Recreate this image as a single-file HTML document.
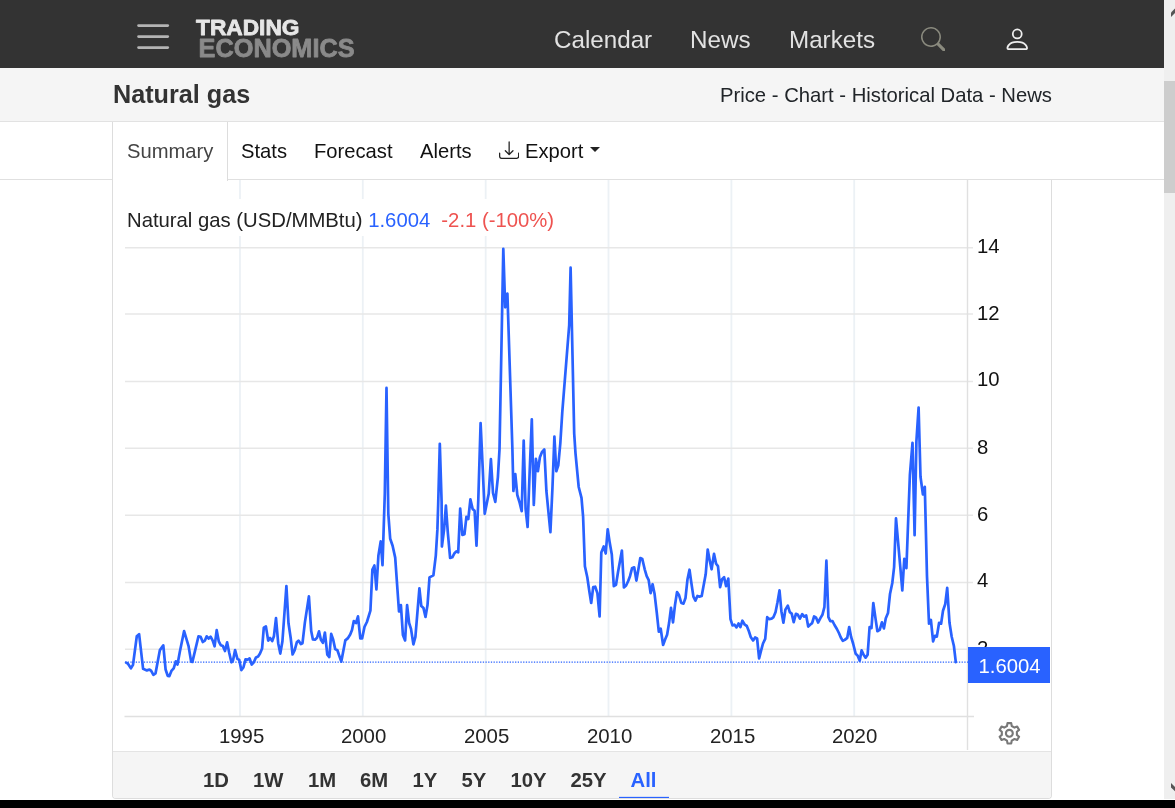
<!DOCTYPE html>
<html><head><meta charset="utf-8"><title>Natural gas</title>
<style>
*{box-sizing:border-box}
html,body{margin:0;padding:0;width:1175px;height:808px;overflow:hidden;background:#fff;font-family:"Liberation Sans",sans-serif}
#page{position:relative;width:1175px;height:808px;overflow:hidden;background:#fff;will-change:transform}
.abs{position:absolute}
#nav{left:0;top:0;width:1164px;height:68px;background:#333}
#nav .lnk{position:absolute;top:26px;color:#e2e2e2;font-size:24.2px;line-height:28px;white-space:nowrap}
#sub{left:0;top:68px;width:1164px;height:54px;background:#f5f5f5;border-bottom:1px solid #e2e2e2}
#title{left:113px;top:80px;font-size:25.2px;font-weight:bold;color:#333;line-height:28px;white-space:nowrap}
#crumbs{left:720px;top:83px;font-size:20.25px;color:#212529;line-height:24px;white-space:nowrap}
#tabline{left:0;top:179px;width:1164px;height:1px;background:#e0e0e0}
#tabact{left:112px;top:122px;width:116px;height:59px;background:#fff;border-left:1px solid #ddd;border-right:1px solid #ddd}
.tab{position:absolute;top:139px;font-size:20.2px;line-height:24px;color:#111;white-space:nowrap}
#box{left:112px;top:180px;width:940px;height:619px;border-left:1px solid #ddd;border-right:1px solid #ddd;border-bottom:1px solid #ddd;border-radius:0 0 4px 4px}
#rng{left:113px;top:751px;width:938px;height:47px;background:#f5f5f5;border-top:1px solid #e4e4e4;border-radius:0 0 3px 3px}
.rb{position:absolute;top:768px;font-size:20.3px;font-weight:bold;line-height:24px;color:#333;white-space:nowrap}
#black{left:0;top:800px;width:1175px;height:8px;background:#000}
#sb{left:1164px;top:0;width:11px;height:799px;background:#efefef}
#thumb{left:1164px;top:81px;width:11px;height:112px;background:#cdcdcd}
</style></head><body><div id="page">
<div id="nav" class="abs">
<div class="lnk" style="left:554px">Calendar</div>
<div class="lnk" style="left:690px">News</div>
<div class="lnk" style="left:789px">Markets</div>
</div>

<svg class="abs" style="left:130px;top:15px" width="240" height="50" viewBox="130 15 240 50">
<g stroke="#b4b4b4" stroke-width="2.6" stroke-linecap="round"><line x1="138.5" y1="25.6" x2="167.8" y2="25.6"/><line x1="138.5" y1="36.6" x2="167.8" y2="36.6"/><line x1="138.5" y1="47.6" x2="167.8" y2="47.6"/></g>
<text x="196" y="35" font-family="'Liberation Sans',sans-serif" font-weight="bold" font-size="21.8" fill="#e6e6e6" stroke="#e6e6e6" stroke-width="0.8" stroke-linejoin="round" textLength="103.5" lengthAdjust="spacingAndGlyphs">TRADING</text>
<text x="198.6" y="57" font-family="'Liberation Sans',sans-serif" font-weight="bold" font-size="25.4" fill="#8a8a8a" stroke="#8a8a8a" stroke-width="0.8" stroke-linejoin="round" textLength="156" lengthAdjust="spacingAndGlyphs">ECONOMICS</text>
</svg>
<svg class="abs" style="left:920.8px;top:26.8px" width="24.6" height="24.6" viewBox="0 0 16 16" fill="#8a8a7e"><path d="M11.742 10.344a6.5 6.5 0 1 0-1.397 1.398h-.001c.03.04.062.078.098.115l3.85 3.85a1 1 0 0 0 1.415-1.414l-3.85-3.85a1.007 1.007 0 0 0-.115-.1zM12 6.5a5.5 5.5 0 1 1-11 0 5.5 5.5 0 0 1 11 0z"/></svg>
<svg class="abs" style="left:1003px;top:24.7px" width="28.5" height="28.5" viewBox="0 0 16 16" fill="#eee"><path d="M8 8a3 3 0 1 0 0-6 3 3 0 0 0 0 6zm2-3a2 2 0 1 1-4 0 2 2 0 0 1 4 0zm4 8c0 1-1 1-1 1H3s-1 0-1-1 1-4 6-4 6 3 6 4zm-1-.004c-.001-.246-.154-.986-.832-1.664C11.516 10.68 10.289 10 8 10c-2.29 0-3.516.68-4.168 1.332-.678.678-.83 1.418-.832 1.664h10z"/></svg>
<div id="sub" class="abs"></div>
<div id="title" class="abs">Natural gas</div>
<div id="crumbs" class="abs">Price - Chart - Historical Data - News</div>
<div id="tabline" class="abs"></div>
<div id="tabact" class="abs"></div>
<div class="tab" style="left:127px;color:#444">Summary</div>
<div class="tab" style="left:241px">Stats</div>
<div class="tab" style="left:314px">Forecast</div>
<div class="tab" style="left:420px">Alerts</div>
<div class="tab" style="left:525px">Export</div>
<svg class="abs" style="left:499px;top:139.8px" width="20.3" height="20.3" viewBox="0 0 16 16" fill="#222"><path d="M.5 9.9a.5.5 0 0 1 .5.5v2.5a1 1 0 0 0 1 1h12a1 1 0 0 0 1-1v-2.5a.5.5 0 0 1 1 0v2.5a2 2 0 0 1-2 2H2a2 2 0 0 1-2-2v-2.5a.5.5 0 0 1 .5-.5z"/><path d="M7.646 11.854a.5.5 0 0 0 .708 0l3-3a.5.5 0 0 0-.708-.708L8.5 10.293V1.5a.5.5 0 0 0-1 0v8.793L5.354 8.146a.5.5 0 1 0-.708.708l3 3z"/></svg>
<div class="abs" style="left:589.8px;top:147px;width:0;height:0;border-left:5.1px solid transparent;border-right:5.1px solid transparent;border-top:5.1px solid #222"></div>
<div id="box" class="abs"></div>
<svg id="chart" width="939" height="572" viewBox="113 180 939 572" style="position:absolute;left:113px;top:180px;font-family:'Liberation Sans',sans-serif">
<line x1="240.0" y1="180" x2="240.0" y2="716" stroke="#ecf1f5" stroke-width="1.8"/>
<line x1="362.8" y1="180" x2="362.8" y2="716" stroke="#ecf1f5" stroke-width="1.8"/>
<line x1="485.7" y1="180" x2="485.7" y2="716" stroke="#ecf1f5" stroke-width="1.8"/>
<line x1="608.5" y1="180" x2="608.5" y2="716" stroke="#ecf1f5" stroke-width="1.8"/>
<line x1="731.4" y1="180" x2="731.4" y2="716" stroke="#ecf1f5" stroke-width="1.8"/>
<line x1="854.2" y1="180" x2="854.2" y2="716" stroke="#ecf1f5" stroke-width="1.8"/>
<line x1="125" y1="247.8" x2="973" y2="247.8" stroke="#e7e7e7" stroke-width="1.5"/>
<line x1="125" y1="314.0" x2="973" y2="314.0" stroke="#e7e7e7" stroke-width="1.5"/>
<line x1="125" y1="381.5" x2="973" y2="381.5" stroke="#e7e7e7" stroke-width="1.5"/>
<line x1="125" y1="448.3" x2="973" y2="448.3" stroke="#e7e7e7" stroke-width="1.5"/>
<line x1="125" y1="515.2" x2="973" y2="515.2" stroke="#e7e7e7" stroke-width="1.5"/>
<line x1="125" y1="582.6" x2="973" y2="582.6" stroke="#e7e7e7" stroke-width="1.5"/>
<line x1="125" y1="649.2" x2="973" y2="649.2" stroke="#e7e7e7" stroke-width="1.5"/>
<rect x="125" y="199" width="436" height="37" fill="#fff"/>
<line x1="124.5" y1="716.4" x2="974" y2="716.4" stroke="#e0e0e0" stroke-width="1.5"/>
<line x1="967.5" y1="180" x2="967.5" y2="750" stroke="#e0e0e0" stroke-width="1.4"/>
<text x="977" y="253.2" font-size="20.3" fill="#111">14</text>
<text x="977" y="320.2" font-size="20.3" fill="#111">12</text>
<text x="977" y="386.2" font-size="20.3" fill="#111">10</text>
<text x="977" y="454.2" font-size="20.3" fill="#111">8</text>
<text x="977" y="521.2" font-size="20.3" fill="#111">6</text>
<text x="977" y="587.2" font-size="20.3" fill="#111">4</text>
<text x="977" y="655.2" font-size="20.3" fill="#111">2</text>
<text x="241.6" y="743.2" font-size="20.4" fill="#222" text-anchor="middle">1995</text>
<text x="363.6" y="743.2" font-size="20.4" fill="#222" text-anchor="middle">2000</text>
<text x="486.6" y="743.2" font-size="20.4" fill="#222" text-anchor="middle">2005</text>
<text x="609.6" y="743.2" font-size="20.4" fill="#222" text-anchor="middle">2010</text>
<text x="732.6" y="743.2" font-size="20.4" fill="#222" text-anchor="middle">2015</text>
<text x="854.6" y="743.2" font-size="20.4" fill="#222" text-anchor="middle">2020</text>
<line x1="125" y1="662.1" x2="968" y2="662.1" stroke="#2962ff" stroke-width="1.3" stroke-dasharray="1.3 1.39"/>
<path d="M126.1 662.6 L127.8 663.6 L130.9 668.3 L133.0 664.9 L136.8 636.3 L139.1 634.2 L143.1 668.8 L146.9 670.4 L149.5 669.5 L151.2 670.9 L153.4 674.9 L155.5 673.5 L159.9 650.1 L163.3 645.4 L165.6 669.5 L167.7 675.8 L169.4 676.1 L171.6 670.6 L173.7 668.3 L175.8 661.4 L177.5 664.5 L179.8 651.9 L184.1 631.1 L188.5 645.8 L191.1 661.4 L192.4 661.9 L198.5 636.3 L200.6 636.8 L202.8 642.0 L204.9 640.6 L206.7 636.3 L208.7 638.5 L210.6 636.6 L212.7 640.6 L214.6 646.3 L216.7 630.2 L218.8 641.5 L220.9 645.3 L222.9 646.1 L225.0 651.0 L227.1 642.3 L229.2 652.7 L231.4 662.3 L233.0 660.5 L235.1 650.1 L237.5 659.1 L239.2 659.7 L241.3 670.1 L243.4 667.5 L245.5 659.3 L247.7 659.7 L249.6 658.4 L251.7 664.5 L253.8 662.3 L256.0 657.4 L258.1 656.5 L260.0 653.6 L262.1 648.4 L263.8 627.6 L265.9 626.4 L268.2 640.6 L270.1 638.0 L272.2 641.1 L273.9 636.3 L276.0 618.1 L278.2 643.2 L280.3 653.6 L282.4 641.5 L286.4 586.0 L288.5 623.3 L290.7 638.0 L292.6 654.5 L294.7 650.1 L296.8 642.3 L298.5 640.6 L300.8 644.1 L302.5 643.2 L304.9 622.4 L308.9 596.4 L311.2 631.1 L312.9 639.4 L315.0 639.7 L317.0 637.8 L319.0 631.3 L320.9 639.8 L322.9 642.8 L324.9 632.5 L327.3 654.7 L329.3 657.0 L331.2 633.9 L333.2 639.8 L335.2 649.1 L337.4 650.3 L341.3 661.6 L345.3 640.4 L347.7 638.4 L350.2 634.5 L352.0 629.9 L353.8 621.0 L356.0 623.0 L358.0 616.4 L360.3 638.4 L362.1 638.4 L364.5 626.9 L366.9 622.0 L370.4 610.7 L372.4 569.5 L374.4 565.5 L376.4 589.3 L378.4 555.6 L380.7 541.4 L382.5 565.1 L384.8 493.8 L386.5 387.9 L388.3 513.6 L390.2 538.8 L392.6 545.7 L395.2 557.6 L399.0 611.5 L400.9 605.1 L402.9 634.9 L405.1 640.4 L407.1 605.1 L409.1 623.0 L411.0 628.9 L413.4 644.4 L415.4 636.8 L419.4 588.3 L421.3 606.1 L423.5 608.1 L425.5 617.0 L427.5 605.1 L429.5 577.4 L433.4 575.4 L435.8 555.6 L437.4 529.4 L438.2 503.7 L439.8 443.9 L441.6 501.7 L441.9 546.5 L444.1 529.4 L445.9 505.6 L447.8 532.4 L450.1 557.9 L452.3 557.3 L454.5 553.2 L456.3 551.4 L458.2 552.4 L460.2 508.6 L462.4 534.9 L464.5 534.2 L466.4 516.8 L468.3 519.0 L470.4 499.4 L472.6 508.9 L474.6 510.8 L476.5 545.7 L478.3 499.7 L480.6 423.1 L482.8 470.0 L484.7 513.8 L488.7 493.8 L490.9 459.2 L493.0 493.0 L495.3 501.9 L497.9 477.1 L499.5 449.4 L503.3 248.9 L505.2 307.3 L507.4 293.5 L512.4 449.4 L513.4 491.0 L515.3 474.2 L517.3 495.0 L519.7 502.9 L521.7 511.2 L523.7 440.5 L525.6 508.8 L527.6 527.0 L529.6 473.2 L531.8 419.3 L533.8 504.9 L535.9 458.9 L537.9 471.2 L539.9 457.3 L542.1 451.8 L544.3 449.4 L546.4 491.0 L550.4 532.2 L552.4 489.0 L554.4 436.5 L556.3 471.2 L558.3 465.2 L560.3 443.5 L562.3 411.8 L569.2 325.1 L570.6 267.7 L574.2 433.6 L575.5 453.4 L578.7 487.0 L581.5 497.9 L583.1 516.7 L584.9 566.3 L587.3 577.2 L589.3 591.1 L591.2 603.0 L593.2 587.1 L595.2 586.7 L597.4 593.1 L599.6 616.4 L601.3 552.5 L603.7 546.5 L605.7 553.5 L607.7 529.3 L609.7 542.6 L611.8 554.5 L613.8 586.1 L616.0 584.8 L618.0 572.3 L621.9 550.5 L623.9 587.5 L626.1 585.5 L628.1 581.2 L630.0 576.2 L632.0 568.3 L634.2 567.3 L636.4 580.6 L638.4 569.3 L640.3 558.0 L642.3 559.0 L644.7 569.3 L646.7 576.2 L648.7 580.2 L650.6 593.1 L652.6 584.2 L654.6 594.1 L656.8 612.9 L658.8 631.7 L660.7 628.7 L663.1 645.0 L665.1 639.6 L667.1 634.7 L669.1 622.8 L671.0 607.9 L673.0 622.4 L675.0 605.0 L677.0 592.1 L679.0 595.0 L681.3 603.0 L683.5 603.6 L685.5 598.0 L687.5 579.2 L689.5 569.7 L691.4 583.2 L693.4 596.6 L695.4 600.6 L697.4 596.0 L699.4 596.6 L701.7 596.0 L703.7 585.1 L705.7 574.3 L707.7 549.5 L709.7 560.4 L711.6 569.3 L714.0 553.9 L716.0 563.4 L718.0 566.3 L720.1 587.1 L722.1 579.2 L724.1 577.2 L726.1 586.1 L728.3 578.6 L730.5 619.1 L732.5 625.4 L734.5 624.7 L736.5 627.4 L738.5 623.5 L740.4 627.0 L742.4 620.7 L744.8 624.7 L746.8 626.0 L748.8 631.0 L750.7 636.9 L753.1 640.5 L755.1 637.5 L757.1 638.5 L759.1 658.3 L761.0 650.8 L763.0 643.5 L765.2 638.9 L767.2 617.1 L769.2 619.1 L771.5 618.7 L773.5 617.1 L775.5 612.2 L777.5 602.3 L779.5 590.4 L781.4 611.2 L783.4 622.7 L785.4 609.6 L787.8 605.6 L789.8 612.2 L791.7 613.6 L793.7 622.1 L795.9 613.8 L797.9 614.8 L799.9 618.7 L802.2 614.2 L804.2 616.7 L806.2 615.5 L808.2 626.6 L810.1 624.7 L812.1 623.1 L814.1 616.5 L816.1 617.7 L818.1 622.5 L820.4 618.1 L822.4 614.8 L824.4 607.2 L826.4 560.7 L828.4 617.1 L830.3 621.1 L832.5 621.1 L834.5 625.0 L836.9 629.0 L838.9 633.0 L840.8 637.5 L842.8 640.9 L844.8 639.9 L847.2 637.9 L849.2 627.0 L851.1 636.9 L853.1 643.5 L855.7 653.8 L857.7 655.7 L859.7 660.7 L861.6 650.4 L863.6 654.8 L865.6 657.7 L867.6 654.8 L869.6 627.0 L871.5 628.0 L873.3 603.0 L875.6 619.1 L877.4 631.2 L879.7 629.9 L881.9 622.3 L883.9 628.4 L885.8 618.2 L888.0 613.0 L890.0 594.0 L892.3 582.9 L894.1 567.1 L896.0 518.4 L900.3 567.1 L902.3 590.3 L904.3 558.8 L906.4 568.1 L909.9 474.8 L912.5 442.9 L914.6 535.2 L916.4 441.4 L918.6 407.6 L920.5 476.7 L922.9 494.3 L924.8 486.9 L927.0 576.4 L929.0 623.7 L930.9 620.0 L933.1 641.4 L935.0 635.8 L936.8 636.7 L939.1 622.8 L941.1 623.7 L943.0 610.7 L945.2 604.3 L947.2 587.9 L949.5 622.8 L951.7 636.7 L953.9 646.0 L955.8 662.2" fill="none" stroke="#2962ff" stroke-width="2.7" stroke-linejoin="round" stroke-linecap="round"/>
<rect x="968" y="647" width="82" height="36" fill="#2962ff"/>
<text x="978.6" y="673.3" font-size="20.3" fill="#fff">1.6004</text>
<text x="127" y="226.8" font-size="20.3" fill="#222">Natural gas (USD/MMBtu) <tspan fill="#2962ff">1.6004</tspan><tspan fill="#ee5350" dx="5.5"> -2.1 (-100%)</tspan></text>
<path d="M1011.74 725.98 L1011.24 723.17 L1007.48 723.17 L1006.98 725.98 L1004.21 727.58 L1001.53 726.61 L999.65 729.86 L1001.83 731.70 L1001.83 734.90 L999.65 736.74 L1001.53 739.99 L1004.21 739.02 L1006.98 740.62 L1007.48 743.43 L1011.24 743.43 L1011.74 740.62 L1014.51 739.02 L1017.19 739.99 L1019.07 736.74 L1016.89 734.90 L1016.89 731.70 L1019.07 729.86 L1017.19 726.61 L1014.51 727.58 Z" fill="none" stroke="#787878" stroke-width="2.1" stroke-linejoin="round"/><circle cx="1009.36" cy="733.3" r="3.45" fill="none" stroke="#787878" stroke-width="2.1"/>
</svg>
<div id="rng" class="abs"></div>
<div class="rb" style="left:203px">1D</div>
<div class="rb" style="left:253px">1W</div>
<div class="rb" style="left:308px">1M</div>
<div class="rb" style="left:360px">6M</div>
<div class="rb" style="left:412.5px">1Y</div>
<div class="rb" style="left:461.5px">5Y</div>
<div class="rb" style="left:510.5px">10Y</div>
<div class="rb" style="left:570.5px">25Y</div>
<div class="rb" style="left:630.5px;color:#2962ff">All</div>
<div class="abs" style="left:619px;top:797px;width:50px;height:1px;background:#2962ff"></div><div class="abs" style="left:619px;top:796px;width:50px;height:1px;background:#2962ff;opacity:.15"></div>
<div id="sb" class="abs"></div>
<div id="thumb" class="abs"></div>
<svg class="abs" style="left:1164px;top:0" width="11" height="799" viewBox="0 0 11 799"><path d="M7 12.4 L11 8.4 L11 13.1 L7 17.1 Z" fill="#555"/><path d="M7 782.9 L11 787 L11 791.3 L7 787.6 Z" fill="#555"/></svg>
<div id="black" class="abs"></div>
</div></body></html>
